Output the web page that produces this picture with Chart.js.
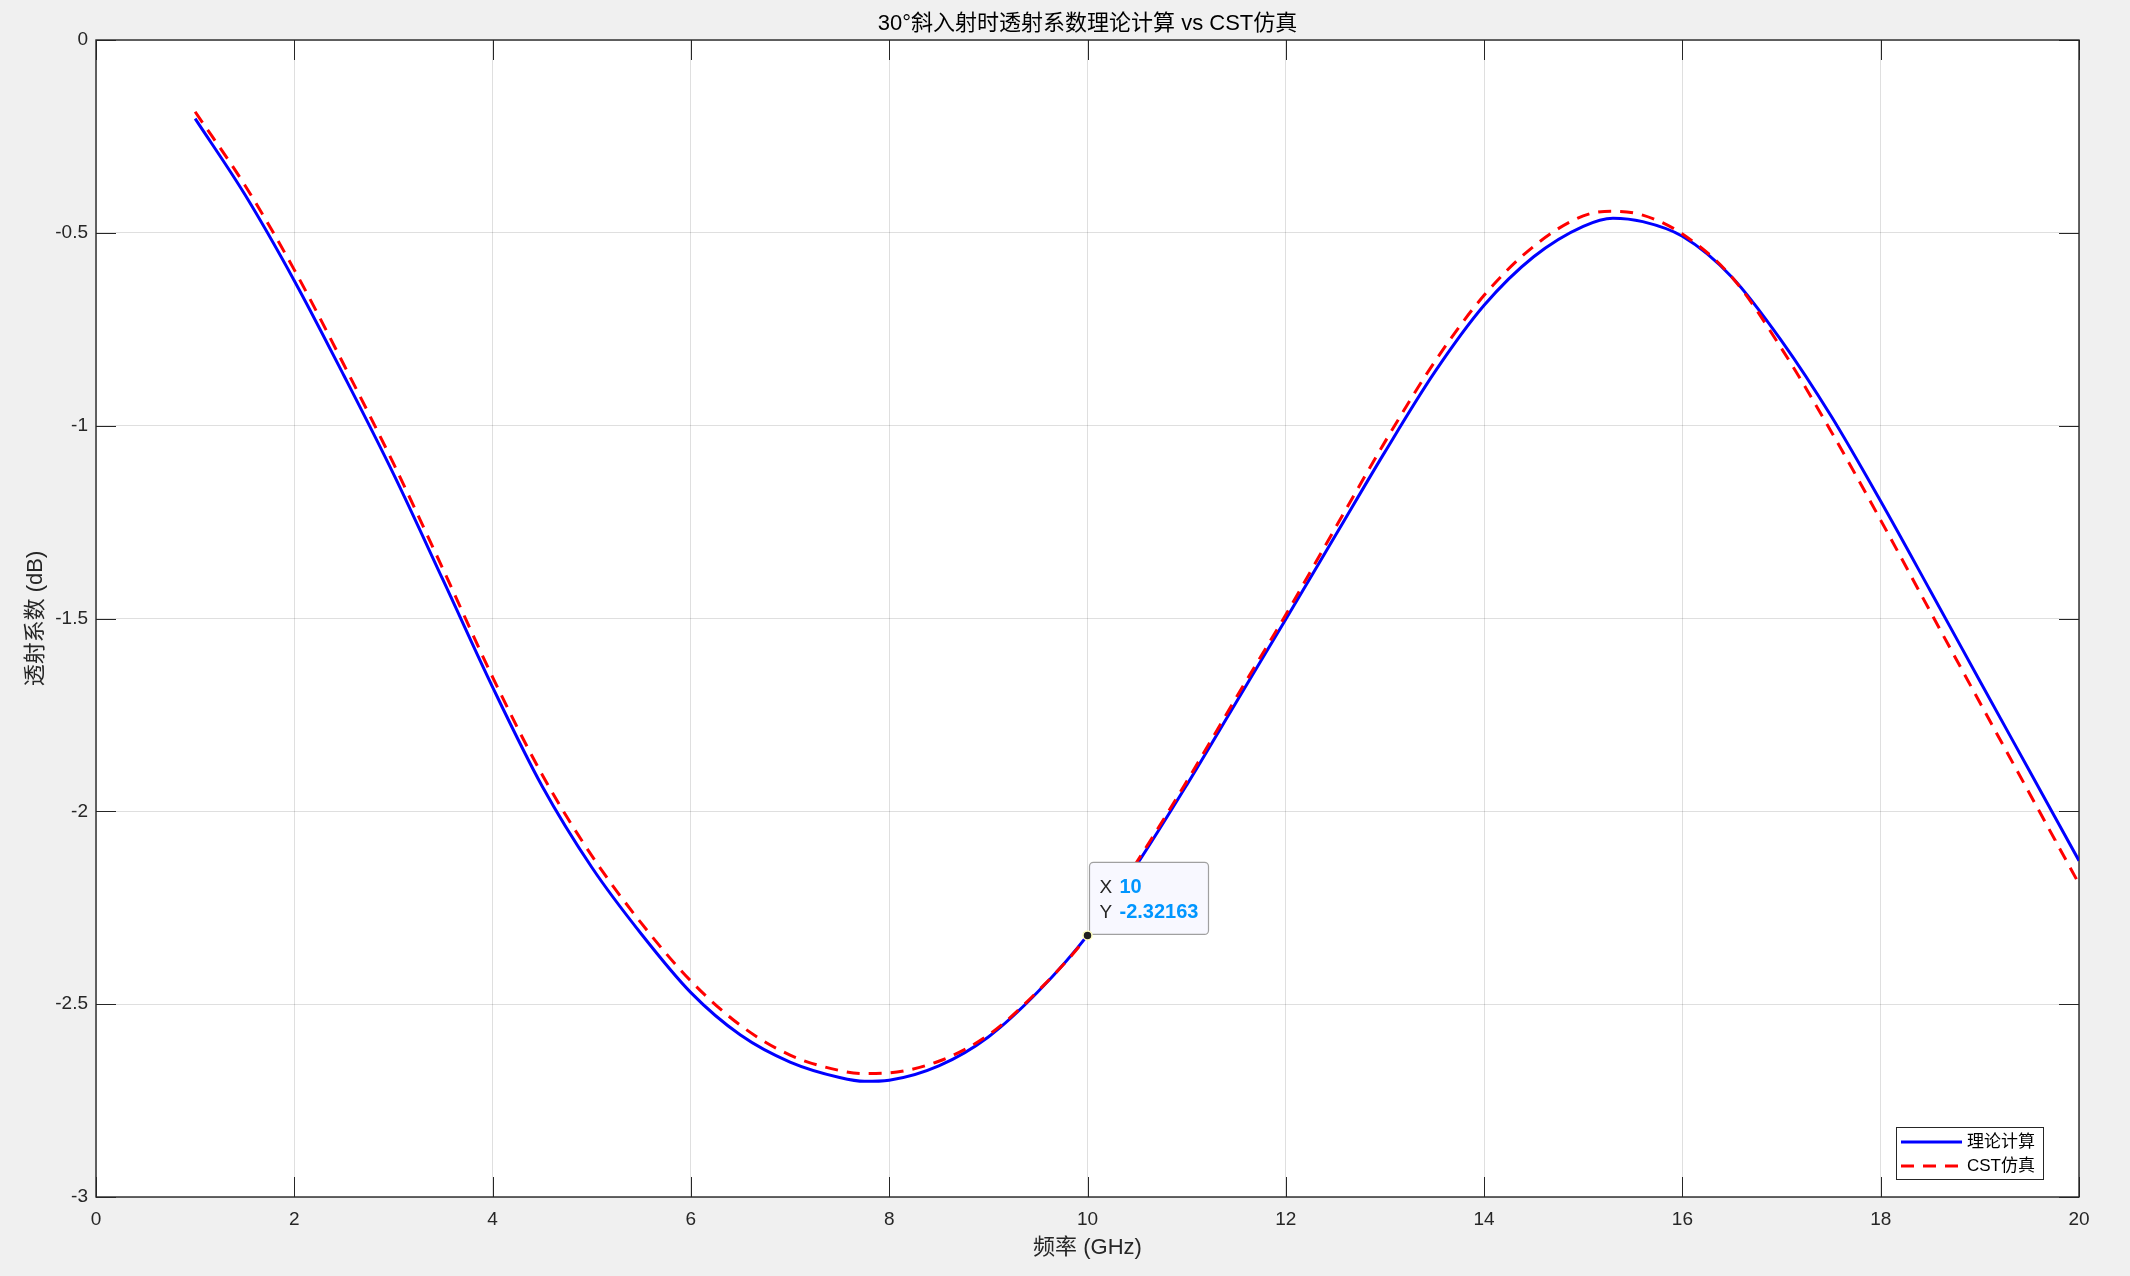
<!DOCTYPE html>
<html>
<head>
<meta charset="utf-8">
<script src="https://cdn.jsdelivr.net/npm/chart.js@4.4.1/dist/chart.umd.min.js"></script>
<style>
  html, body { margin: 0; padding: 0; background: #f0f0f0; }
  #wrap { width: 2130px; height: 1276px; position: relative; }
</style>
</head>
<body>
<div id="wrap"><canvas id="tChart"></canvas></div>
<script>
// frequency points (GHz)
const freq = [1, 1.5, 2, 2.5, 3, 3.5, 4, 4.5, 5, 5.5, 6, 6.5, 7, 7.5, 7.75, 8, 8.5, 9, 9.5, 10,
  10.5, 11, 11.5, 12, 12.5, 13, 13.5, 14, 14.5, 15, 15.3, 15.6, 16, 16.5, 17, 17.5, 18, 18.5, 19, 19.5, 20];
// theory (blue solid), dB
const theory = [-0.204, -0.400, -0.624, -0.870, -1.125, -1.400, -1.678, -1.935, -2.145, -2.318, -2.470, -2.580, -2.650, -2.690, -2.700, -2.697, -2.660, -2.585, -2.468, -2.32163,
  -2.137, -1.932, -1.717, -1.502, -1.285, -1.068, -0.862, -0.688, -0.562, -0.483, -0.462, -0.471, -0.509, -0.615, -0.780, -0.975, -1.196, -1.428, -1.662, -1.895, -2.128];
// CST simulation (red dashed), dB
const cst = [-0.186, -0.376, -0.596, -0.842, -1.098, -1.372, -1.652, -1.905, -2.115, -2.290, -2.440, -2.555, -2.632, -2.672, -2.680, -2.678, -2.648, -2.580, -2.466, -2.323,
  -2.130, -1.923, -1.705, -1.490, -1.265, -1.042, -0.835, -0.662, -0.535, -0.456, -0.444, -0.454, -0.503, -0.615, -0.800, -1.015, -1.245, -1.482, -1.718, -1.953, -2.188];
// data tip
const tipX = 10;
const tipY = -2.32163;

const xTicks = [0, 2, 4, 6, 8, 10, 12, 14, 16, 18, 20];
const yTicks = [0, -0.5, -1, -1.5, -2, -2.5, -3];

const titleText = '30°斜入射时透射系数理论计算 vs CST仿真';
const xLabel = '频率 (GHz)';
const yLabel = '透射系数 (dB)';
const fontFam = '"Liberation Sans", Arial, "Noto Sans CJK SC", sans-serif';
const axisCol = '#262626';

const toXY = (ys) => freq.map((f, i) => ({ x: f, y: ys[i] }));

// paint figure & axes background, draw title
const bgPlugin = {
  id: 'bg',
  beforeDraw(chart) {
    const { ctx, chartArea: a } = chart;
    ctx.save();
    ctx.fillStyle = '#f0f0f0';
    ctx.fillRect(0, 0, chart.width, chart.height);
    ctx.fillStyle = '#ffffff';
    ctx.fillRect(a.left, a.top, a.right - a.left, a.bottom - a.top);
    ctx.fillStyle = '#000';
    ctx.font = '22px ' + fontFam;
    ctx.textAlign = 'center';
    ctx.textBaseline = 'middle';
    ctx.fillText(titleText, (a.left + a.right) / 2, 24);
    ctx.restore();
  }
};

// inward ticks on all four sides + box
const boxPlugin = {
  id: 'box',
  beforeDatasetsDraw(chart) {
    const { ctx, chartArea: a, scales } = chart;
    const L = 20;
    ctx.save();
    ctx.strokeStyle = axisCol;
    ctx.lineWidth = 1;
    ctx.beginPath();
    xTicks.forEach(v => {
      const px = Math.round(scales.x.getPixelForValue(v)) + 0.5;
      ctx.moveTo(px, a.bottom); ctx.lineTo(px, a.bottom - L);
      ctx.moveTo(px, a.top); ctx.lineTo(px, a.top + L);
    });
    yTicks.forEach(v => {
      const py = Math.round(scales.y.getPixelForValue(v)) + 0.5;
      ctx.moveTo(a.left, py); ctx.lineTo(a.left + L, py);
      ctx.moveTo(a.right, py); ctx.lineTo(a.right - L, py);
    });
    ctx.stroke();
    ctx.lineWidth = 1.4;
    ctx.strokeRect(a.left, a.top, a.right - a.left, a.bottom - a.top);
    ctx.restore();
  }
};

// datatip box (drawn after the lines, before the marker)
const tipPlugin = {
  id: 'tip',
  afterDatasetDraw(chart, args) {
    if (args.index !== 1) return;
    const { ctx, scales } = chart;
    const px = scales.x.getPixelForValue(tipX);
    const py = scales.y.getPixelForValue(tipY);
    const bx = px + 2, by = py - 73, bw = 119, bh = 72;
    ctx.save();
    ctx.fillStyle = '#f8f8ff';
    ctx.strokeStyle = '#a0a0a0';
    ctx.lineWidth = 1.2;
    ctx.beginPath();
    ctx.roundRect(bx, by, bw, bh, 4);
    ctx.fill();
    ctx.stroke();
    ctx.textBaseline = 'middle';
    ctx.textAlign = 'left';
    ctx.fillStyle = '#262626';
    ctx.font = '19px ' + fontFam;
    ctx.fillText('X', bx + 10, by + 25);
    ctx.fillText('Y', bx + 10, by + 50);
    ctx.fillStyle = '#0096ff';
    ctx.font = 'bold 20px ' + fontFam;
    ctx.fillText(String(tipX), bx + 30, by + 25);
    ctx.fillText(String(tipY), bx + 30, by + 50);
    ctx.restore();
  }
};

// legend box in lower right corner
const legendPlugin = {
  id: 'legendBox',
  afterDraw(chart) {
    const { ctx } = chart;
    const ds = chart.data.datasets.slice(0, 2);
    const x0 = 1896, y0 = 1127, w = 147, h = 52;
    ctx.save();
    ctx.fillStyle = '#fff';
    ctx.fillRect(x0, y0, w, h);
    ctx.strokeStyle = axisCol;
    ctx.lineWidth = 1;
    ctx.strokeRect(x0 + 0.5, y0 + 0.5, w, h);
    ds.forEach((d, i) => {
      const yy = y0 + 15 + i * 24;
      ctx.strokeStyle = d.borderColor;
      ctx.lineWidth = 3;
      ctx.setLineDash(d.borderDash || []);
      ctx.beginPath();
      ctx.moveTo(x0 + 5, yy);
      ctx.lineTo(x0 + 66, yy);
      ctx.stroke();
      ctx.setLineDash([]);
      ctx.fillStyle = '#000';
      ctx.font = '17px ' + fontFam;
      ctx.textAlign = 'left';
      ctx.textBaseline = 'middle';
      ctx.fillText(d.label, x0 + 71, yy);
    });
    ctx.restore();
  }
};

new Chart(document.getElementById('tChart'), {
  type: 'line',
  data: {
    datasets: [
      {
        label: '理论计算',
        data: toXY(theory),
        borderColor: '#0000ff',
        borderWidth: 3,
        pointRadius: 0,
        cubicInterpolationMode: 'monotone',
        order: 2
      },
      {
        label: 'CST仿真',
        data: toXY(cst),
        borderColor: '#ff0000',
        borderWidth: 3,
        borderDash: [13, 9],
        pointRadius: 0,
        cubicInterpolationMode: 'monotone',
        order: 1
      },
      {
        type: 'scatter',
        label: 'tip',
        data: [{ x: tipX, y: tipY }],
        pointRadius: 4.5,
        backgroundColor: '#202020',
        borderColor: '#ffffc0',
        borderWidth: 1.5,
        order: 0
      }
    ]
  },
  options: {
    responsive: true,
    maintainAspectRatio: false,
    devicePixelRatio: 1,
    animation: false,
    layout: { padding: { left: 0, right: 51, top: 40, bottom: 0 } },
    plugins: {
      legend: { display: false },
      tooltip: { enabled: false },
      title: { display: false }
    },
    scales: {
      x: {
        type: 'linear',
        min: 0,
        max: 20,
        afterFit: s => { s.height = 79; },
        afterBuildTicks: s => { s.ticks = xTicks.map(v => ({ value: v })); },
        ticks: {
          color: axisCol,
          font: { size: 19, family: fontFam },
          padding: 11,
          maxRotation: 0,
          callback: v => String(v)
        },
        grid: { color: 'rgba(38,38,38,0.15)', drawTicks: false },
        border: { display: false },
        title: {
          display: true,
          text: xLabel,
          color: axisCol,
          font: { size: 22, family: fontFam },
          padding: { top: 0, bottom: 15 }
        }
      },
      y: {
        type: 'linear',
        min: -3,
        max: 0,
        afterFit: s => { s.width = 96; },
        afterBuildTicks: s => { s.ticks = yTicks.map(v => ({ value: v })); },
        ticks: {
          color: axisCol,
          font: { size: 19, family: fontFam },
          padding: 8,
          callback: v => String(v)
        },
        grid: { color: 'rgba(38,38,38,0.15)', drawTicks: false },
        border: { display: false },
        title: {
          display: true,
          text: yLabel,
          color: axisCol,
          font: { size: 22, family: fontFam },
          padding: { top: 23, bottom: 0 }
        }
      }
    }
  },
  plugins: [bgPlugin, boxPlugin, tipPlugin, legendPlugin]
});
</script>
</body>
</html>
